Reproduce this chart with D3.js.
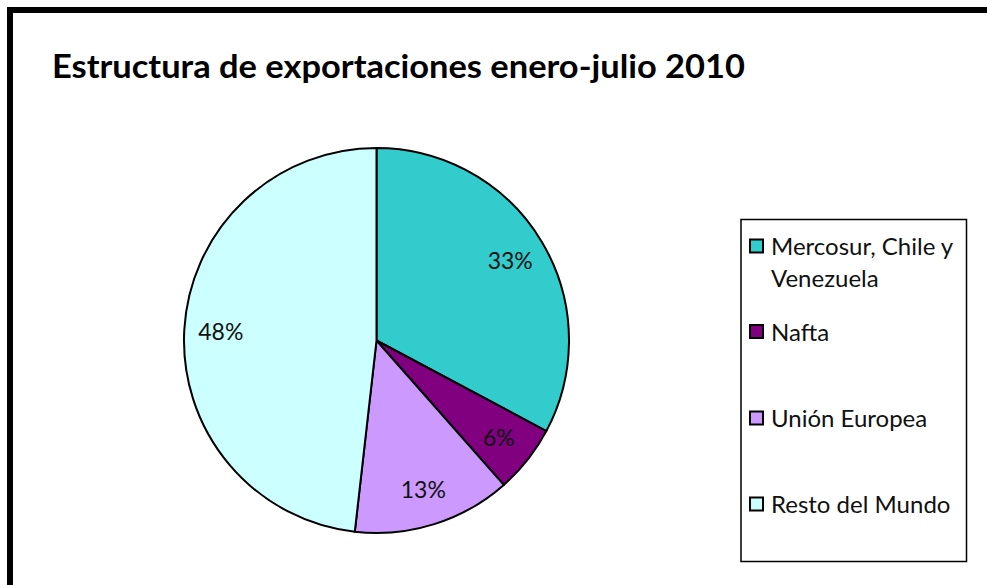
<!DOCTYPE html>
<html><head><meta charset="utf-8">
<script src="https://cdn.jsdelivr.net/npm/d3@7"></script>
<style>html,body{margin:0;padding:0;background:#fff;}svg{display:block;}</style>
</head><body>
<svg id="chart" width="987" height="585"></svg>
<script>
const title = "Estructura de exportaciones enero-julio 2010";
const categories = ["Mercosur, Chile y Venezuela", "Nafta", "Unión Europea", "Resto del Mundo"];
const legendLines = [["Mercosur, Chile y", "Venezuela"], ["Nafta"], ["Unión Europea"], ["Resto del Mundo"]];
const values = [32.8, 5.7, 13.3, 48.2];
const colors = ["#33CCCC", "#800080", "#CC99FF", "#CCFFFF"];

const svg = d3.select("#chart");
const font = "Lato, 'Open Sans', sans-serif";

// frame
svg.append("line").attr("x1", 7).attr("x2", 987).attr("y1", 10).attr("y2", 10).attr("stroke", "#000").attr("stroke-width", 6);
svg.append("line").attr("x1", 10).attr("x2", 10).attr("y1", 7).attr("y2", 585).attr("stroke", "#000").attr("stroke-width", 6);

// title
svg.append("text").attr("x", 52).attr("y", 78)
  .attr("font-family", font).attr("font-weight", "bold").attr("font-size", 32.5)
  .attr("textLength", 693).attr("lengthAdjust", "spacingAndGlyphs")
  .attr("fill", "#000").text(title);

// pie
const cx = 376.5, cy = 340.5, r = 192.5;
const total = d3.sum(values);
const pie = d3.pie().sort(null).value(d => d)(values);
const arc = d3.arc().innerRadius(0).outerRadius(r);
const labelArc = d3.arc().innerRadius(r * 0.81).outerRadius(r * 0.81);
const g = svg.append("g").attr("transform", `translate(${cx},${cy})`);
g.selectAll("path").data(pie).join("path")
  .attr("d", arc).attr("fill", (d, i) => colors[i])
  .attr("stroke", "#000").attr("stroke-width", 2).attr("stroke-linejoin", "round");
const fmt = d3.format(".0%");
g.selectAll("text").data(pie).join("text")
  .attr("transform", d => { const c = labelArc.centroid(d); return `translate(${c[0]},${c[1]})`; })
  .attr("text-anchor", "middle").attr("dy", "0.36em")
  .attr("font-family", font).attr("font-size", 23).attr("fill", "#111")
  .text(d => fmt(d.data / total));

// legend
svg.append("rect").attr("x", 741).attr("y", 219.5).attr("width", 225.5).attr("height", 342)
  .attr("fill", "#fff").attr("stroke", "#000").attr("stroke-width", 1.5);
const legendY = [246, 331.5, 418, 504];
const lg = svg.append("g");
categories.forEach((c, i) => {
  lg.append("rect").attr("x", 750).attr("y", legendY[i] - 6.5).attr("width", 13).attr("height", 13)
    .attr("fill", colors[i]).attr("stroke", "#000").attr("stroke-width", 2);
  const t = lg.append("text").attr("x", 771).attr("y", legendY[i] + 9)
    .attr("font-family", font).attr("font-size", 24).attr("fill", "#111");
  legendLines[i].forEach((ln, j) => {
    t.append("tspan").attr("x", 771).attr("dy", j === 0 ? 0 : 32).text(ln);
  });
});
</script>
</body></html>
